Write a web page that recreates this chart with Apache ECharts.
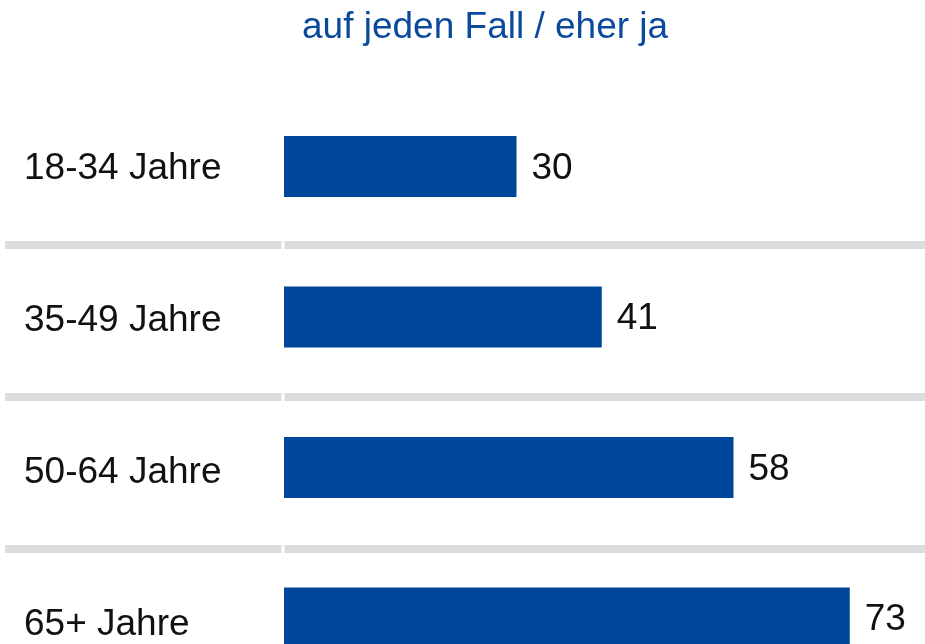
<!DOCTYPE html>
<html>
<head>
<meta charset="utf-8">
<script src="https://cdn.jsdelivr.net/npm/echarts@6/dist/echarts.min.js"></script>
<style>
html,body{margin:0;padding:0;background:#fff;}
#chart{width:925px;height:644px;}
</style>
</head>
<body>
<div id="chart"></div>
<script>
const categories = ['18-34 Jahre', '35-49 Jahre', '50-64 Jahre', '65+ Jahre'];
const values = [30, 41, 58, 73];
const titleText = 'auf jeden Fall / eher ja';

const FONT = '"Liberation Sans", Arial, sans-serif';
const chart = echarts.init(document.getElementById('chart'), null, {renderer: 'canvas'});

const sepLine = {
  show: true,
  showMinLine: false,
  showMaxLine: false,
  lineStyle: {color: '#DDDDDD', width: 8}
};

chart.setOption({
  animation: false,
  backgroundColor: '#ffffff',
  title: {
    text: titleText,
    left: 297,
    top: 4,
    textStyle: {color: '#0A4A9C', fontSize: 37, fontWeight: 'normal', fontFamily: FONT}
  },
  grid: [
    {left: 5, width: 276.5, top: 92.25, height: 609, outerBoundsMode: 'none', containLabel: false},
    {left: 284.5, width: 640.5, top: 92.25, height: 609, outerBoundsMode: 'none', containLabel: false},
    {left: 284, width: 775, top: 91.25, height: 602, outerBoundsMode: 'none', containLabel: false}
  ],
  xAxis: [
    {gridIndex: 0, type: 'value', min: 0, max: 100, show: false},
    {gridIndex: 1, type: 'value', min: 0, max: 100, show: false},
    {gridIndex: 2, type: 'value', min: 0, max: 100, show: false}
  ],
  yAxis: [
    {
      gridIndex: 0, type: 'category', inverse: true, data: categories,
      axisLine: {show: false}, axisTick: {show: false},
      axisLabel: {inside: true, margin: 19, align: 'left', fontSize: 37, color: '#111111', fontFamily: FONT},
      splitLine: sepLine
    },
    {
      gridIndex: 1, type: 'category', inverse: true, data: categories,
      axisLine: {show: false}, axisTick: {show: false}, axisLabel: {show: false},
      splitLine: sepLine
    },
    {
      gridIndex: 2, type: 'category', inverse: true, data: categories,
      axisLine: {show: false}, axisTick: {show: false}, axisLabel: {show: false},
      splitLine: {show: false}
    }
  ],
  series: [{
    type: 'bar',
    xAxisIndex: 2,
    yAxisIndex: 2,
    data: values,
    barWidth: 61,
    itemStyle: {color: '#00479B'},
    label: {
      show: true, position: 'right', distance: 15, offset: [0, 2],
      fontSize: 37, color: '#111111', fontFamily: FONT
    }
  }]
});
</script>
</body>
</html>
